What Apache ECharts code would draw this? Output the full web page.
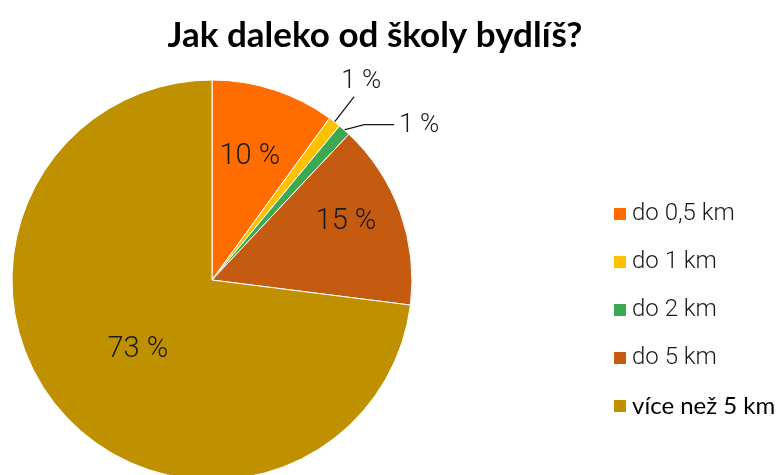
<!DOCTYPE html>
<html>
<head>
<meta charset="utf-8">
<script src="https://cdn.jsdelivr.net/npm/echarts@6/dist/echarts.min.js"></script>
<style>
  html, body { margin: 0; padding: 0; background: #fff; }
  #chart { width: 776px; height: 475px; }
</style>
</head>
<body>
<div id="chart"></div>
<script>
// data
var categories = ['do 0,5 km', 'do 1 km', 'do 2 km', 'do 5 km', 'více než 5 km']
var values = [10, 1, 1, 15, 73]
var colors = ['#FF6D00', '#FFC000', '#3CA851', '#C55A11', '#BF9000']

// label nudges (inside labels sit further out than the default)
var labelShift = [[6, -25], [-18, -15], [0, 1], [37, -23], [3, 2]]

var chart = echarts.init(document.getElementById('chart'))

var pieData = categories.map(function(name, i) {
  var item = { name: name, value: values[i], itemStyle: { color: colors[i] } }
  if (values[i] < 5) {
    item.label = { position: 'outside', fontSize: 26 }
    item.labelLine = { show: true, length: i === 1 ? 32 : 8, length2: i === 1 ? 0 : 30 }
  }
  return item
})

var option = {
  title: {
    text: 'Jak daleko od školy bydlíš?',
    left: 370,
    top: 13,
    textAlign: 'center',
    textStyle: { fontFamily: 'Lato', fontWeight: 'bold', fontSize: 35, color: '#000' }
  },
  legend: {
    orient: 'vertical',
    left: 607,
    top: 197,
    itemWidth: 14,
    itemHeight: 14,
    itemGap: 24,
    icon: 'rect',
    data: categories,
    formatter: function(name) {
      return name === 'více než 5 km' ? '{b|' + name + '}' : name
    },
    textStyle: {
      fontFamily: 'Roboto',
      fontWeight: 300,
      fontSize: 24,
      color: '#1a1a1a',
      rich: {
        b: { fontFamily: 'Lato', fontWeight: 'normal', fontSize: 24, color: '#000' }
      }
    }
  },
  series: [
    {
      type: 'pie',
      center: [212, 280],
      radius: 200,
      startAngle: 90,
      clockwise: true,
      animation: false,
      silent: true,
      itemStyle: { borderColor: '#fff', borderWidth: 1 },
      label: {
        show: true,
        position: 'inside',
        formatter: function(p) { return p.value + ' %' },
        fontFamily: 'Roboto',
        fontWeight: 300,
        fontSize: 29,
        color: '#1a1a1a'
      },
      labelLine: { lineStyle: { color: '#1a1a1a', width: 1.3 } },
      labelLayout: function(params) {
        var s = labelShift[params.dataIndex]
        return { dx: s[0], dy: s[1], moveOverlap: false }
      },
      data: pieData
    }
  ]
}
chart.setOption(option)
</script>
</body>
</html>
